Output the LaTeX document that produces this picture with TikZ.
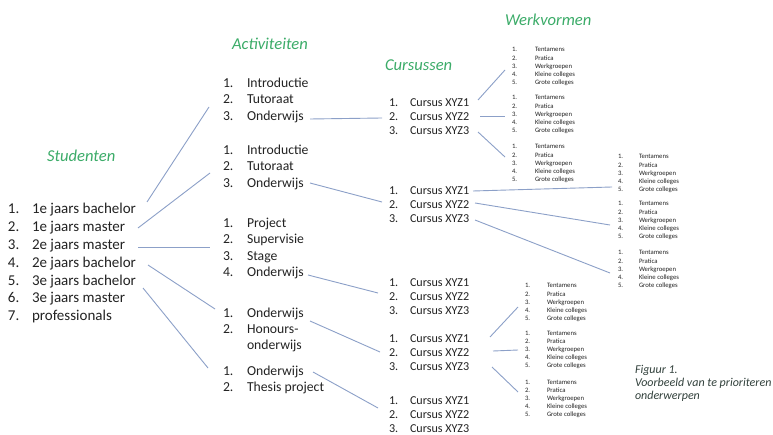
\documentclass[tikz,border=0pt]{standalone}
\usepackage{fontspec}
\setmainfont{Carlito}
\definecolor{txt}{RGB}{35,35,35}
\definecolor{ttl}{RGB}{60,172,105}
\definecolor{lnk}{RGB}{140,160,200}
\definecolor{capc}{RGB}{50,65,60}
\newcommand\wvblock[4]{%
  \foreach \t [count=\i] in {Tentamens,Pratica,Werkgroepen,Kleine colleges,Grote colleges} {
    \node[wv] (#1n\i) at (#2, #4+2+8.1*\i-8.1) {\i.};
    \node[wv] (#1t\i) at (#3, #4+2+8.1*\i-8.1) {\t};
  }}
\newcommand\curgroup[2]{%
  \foreach \i in {1,2,3} {
    \node[cur] (#1n\i) at (389, #2+3.8+13.8*\i-13.8) {\i.};
    \node[cur] (#1t\i) at (410, #2+3.8+13.8*\i-13.8) {Cursus XYZ\i};
  }}
\begin{document}
\begin{tikzpicture}[x=1pt,y=-1pt,
  every node/.style={inner sep=0pt, outer sep=0pt, anchor=base west, text=txt},
  ttlnode/.style={font=\fontsize{16.6}{20}\selectfont\itshape, text=ttl},
  stu/.style={font=\fontsize{15}{17}\selectfont},
  act/.style={font=\fontsize{13.7}{16}\selectfont},
  cur/.style={font=\fontsize{12.1}{14}\selectfont},
  wv/.style={font=\fontsize{6.7}{8}\selectfont},
  capn/.style={font=\fontsize{12}{13}\selectfont\itshape, text=capc},
  link/.style={draw=lnk, line width=0.9pt}]
\fill[white] (0,0) rectangle (773,435);
\useasboundingbox (0,0) rectangle (773,435);

% titles
\node[ttlnode] (tstud) at (47,162) {Studenten};
\node[ttlnode] (tact) at (232,50) {Activiteiten};
\node[ttlnode] (tcur) at (385,71) {Cursussen};
\node[ttlnode] (twv) at (505,26) {Werkvormen};

% Studenten
\foreach \t [count=\i] in {1e jaars bachelor,1e jaars master,2e jaars master,2e jaars bachelor,3e jaars bachelor,3e jaars master,professionals} {
  \node[stu] (sn\i) at (8, 214+17.8*\i-17.8) {\i.};
  \node[stu] (s\i) at (32, 214+17.8*\i-17.8) {\t};
}

% Activiteiten group 1
\foreach \t [count=\i] in {Introductie,Tutoraat,Onderwijs} {
  \node[act] (aan\i) at (223, 87.5+16.5*\i-16.5) {\i.};
  \node[act] (aa\i) at (247, 87.5+16.5*\i-16.5) {\t};
}
% group 2
\foreach \t [count=\i] in {Introductie,Tutoraat,Onderwijs} {
  \node[act] (abn\i) at (223, 154.5+16.5*\i-16.5) {\i.};
  \node[act] (ab\i) at (247, 154.5+16.5*\i-16.5) {\t};
}
% group 3
\foreach \t [count=\i] in {Project,Supervisie,Stage,Onderwijs} {
  \node[act] (acn\i) at (223, 227.5+16.3*\i-16.3) {\i.};
  \node[act] (ac\i) at (247, 227.5+16.3*\i-16.3) {\t};
}
% group 4
\node[act] (adn1) at (223,317.5) {1.};
\node[act] (ad1) at (247,317.5) {Onderwijs};
\node[act] (adn2) at (223,333.5) {2.};
\node[act] (ad2) at (247,333.5) {Honours-};
\node[act] (ad3) at (247,349) {onderwijs};
% group 5
\node[act] (aen1) at (223,375.5) {1.};
\node[act] (ae1) at (247,375.5) {Onderwijs};
\node[act] (aen2) at (223,391.5) {2.};
\node[act] (ae2) at (247,391.5) {Thesis project};

% Cursussen
\curgroup{ca}{103}
\curgroup{cb}{191}
\curgroup{cc}{283}
\curgroup{cd}{339}
\curgroup{ce}{401}

% Werkvormen
\wvblock{wa}{512}{535}{50}
\wvblock{wb}{512}{535}{98}
\wvblock{wc}{512}{535}{147}
\wvblock{wd}{618}{639}{157}
\wvblock{we}{618}{639}{204}
\wvblock{wf}{618}{639}{253}
\wvblock{wg}{525}{547}{286}
\wvblock{wh}{525}{547}{333}
\wvblock{wi}{525}{547}{382}

% caption
\node[capn] (cap1) at (635,373) {Figuur 1.};
\node[capn] (cap2) at (635,386) {Voorbeeld van te prioriteren};
\node[capn] (cap3) at (635,399) {onderwerpen};

% connector end points
\coordinate (p1a) at (147,202); \coordinate (p1b) at (209,107);
\coordinate (p2a) at (138,228); \coordinate (p2b) at (210,173);
\coordinate (p3a) at (138,247); \coordinate (p3b) at (210,247);
\coordinate (p4a) at (148,265); \coordinate (p4b) at (215,309);
\coordinate (p5a) at (143,288); \coordinate (p5b) at (208,368);
\coordinate (q1a) at (310,119); \coordinate (q1b) at (382,118);
\coordinate (q2a) at (310,183); \coordinate (q2b) at (382,202);
\coordinate (q3a) at (308,275); \coordinate (q3b) at (378,293);
\coordinate (q4a) at (310,321); \coordinate (q4b) at (380,352);
\coordinate (q5a) at (313,372); \coordinate (q5b) at (378,408);
\coordinate (r1a) at (478,100); \coordinate (r1b) at (505,70);
\coordinate (r2a) at (480,116); \coordinate (r2b) at (505,116);
\coordinate (r3a) at (478,132); \coordinate (r3b) at (505,157);
\coordinate (r4a) at (473,191); \coordinate (r4b) at (612,187);
\coordinate (r5a) at (475,203); \coordinate (r5b) at (610,225);
\coordinate (r6a) at (475,220); \coordinate (r6b) at (610,273);
\coordinate (r7a) at (490,337); \coordinate (r7b) at (518,307);
\coordinate (r8a) at (493,351); \coordinate (r8b) at (518,350);
\coordinate (r9a) at (492,367); \coordinate (r9b) at (518,392);

\foreach \k in {p1,p2,p3,p4,p5,q1,q2,q3,q4,q5,r1,r2,r3,r4,r5,r6,r7,r8,r9}
  \draw[link] (\k a) -- (\k b);
\end{tikzpicture}
\end{document}
